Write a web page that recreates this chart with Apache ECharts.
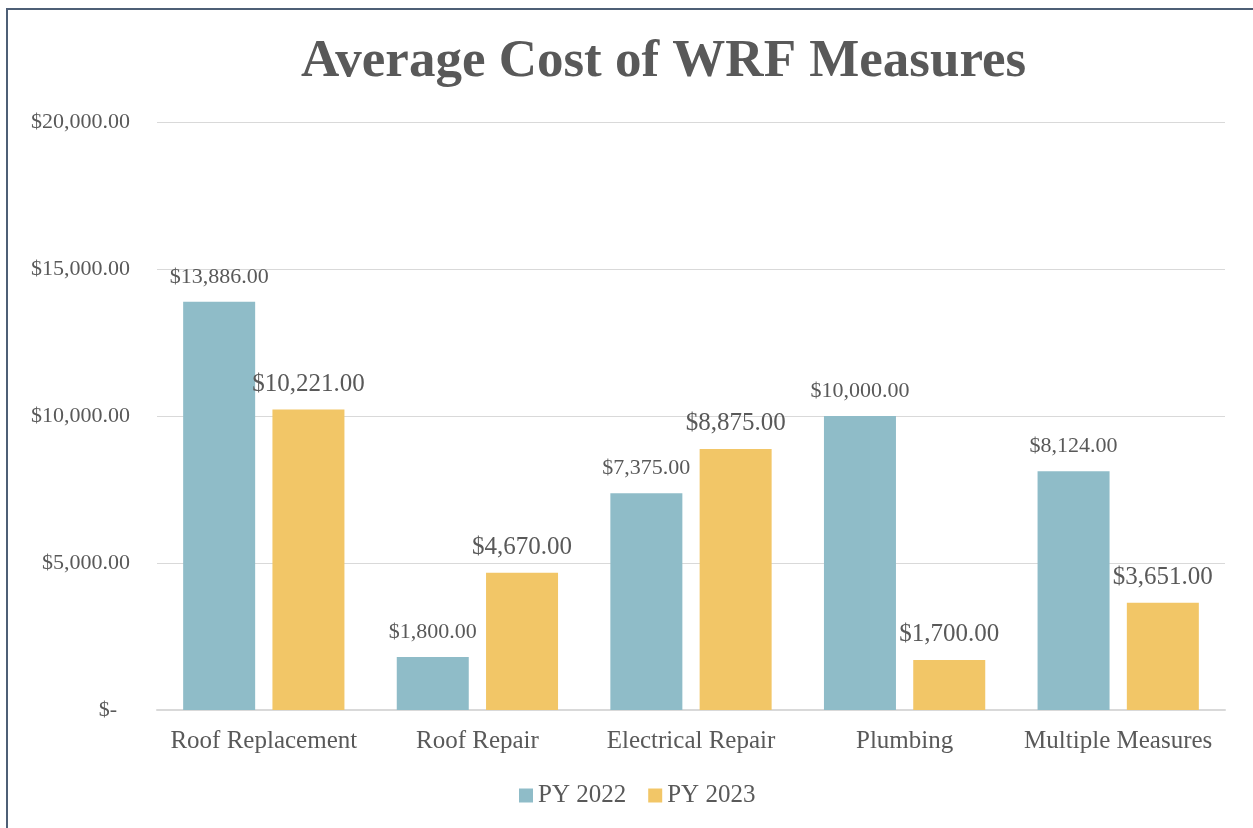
<!DOCTYPE html>
<html><head><meta charset="utf-8">
<script src="https://cdn.jsdelivr.net/npm/echarts@6/dist/echarts.min.js"></script>
<style>html,body{margin:0;padding:0;background:#fff;}#c{width:1253px;height:828px;}</style>
</head><body><div id="c"></div>
<script>
const categories = ['Roof Replacement', 'Roof Repair', 'Electrical Repair', 'Plumbing', 'Multiple Measures'];
const py2022 = [13886, 1800, 7375, 10000, 8124];
const py2023 = [10221, 4670, 8875, 1700, 3651];
const seriesNames = ['PY 2022', 'PY 2023'];

const FONT = '"Liberation Serif", "DejaVu Serif", serif';
const TXT = '#595959';
function money(v) {
  if (v === 0) return '$-';
  return '$' + v.toLocaleString('en-US', {minimumFractionDigits: 2, maximumFractionDigits: 2});
}
const chart = echarts.init(document.getElementById('c'));
chart.setOption({
  animation: false,
  backgroundColor: '#fff',
  graphic: [{
    type: 'rect', shape: {x: 7, y: 9, width: 1300, height: 900},
    style: {fill: 'none', stroke: '#4E5F76', lineWidth: 2}, z: 100
  }],
  title: {
    text: 'Average Cost of WRF Measures', left: 296, top: 31,
    textStyle: {fontFamily: FONT, fontWeight: 'bold', fontSize: 53, color: TXT}
  },
  legend: {
    data: seriesNames, bottom: 15, left: 514, itemWidth: 14, itemHeight: 14, itemGap: 22,
    icon: 'rect',
    textStyle: {fontFamily: FONT, fontSize: 25, color: TXT}
  },
  grid: {left: 157, right: 28, top: 122, bottom: 118, containLabel: false},
  xAxis: {
    type: 'category', data: categories,
    axisLine: {lineStyle: {color: '#D9D9D9', width: 2}},
    axisTick: {show: false},
    axisLabel: {fontFamily: FONT, fontSize: 25, color: TXT, margin: 19, interval: 0}
  },
  yAxis: {
    type: 'value', min: 0, max: 20000, interval: 5000,
    axisLine: {show: false}, axisTick: {show: false},
    splitLine: {lineStyle: {color: '#D9D9D9', width: 1}},
    axisLabel: {
      fontFamily: FONT, fontSize: 22, color: TXT, margin: 27,
      formatter: v => v === 0 ? '{z|$-}' : money(v),
      rich: {z: {fontFamily: FONT, fontSize: 22, color: TXT, padding: [0, 13, 0, 0]}}
    }
  },
  series: [
    {name: seriesNames[0], type: 'bar', data: py2022, barWidth: 72, barGap: '24%',
     itemStyle: {color: '#8FBCC8'},
     label: {show: true, position: 'top', distance: 14, formatter: p => money(p.value),
             fontFamily: FONT, fontSize: 22, color: TXT}},
    {name: seriesNames[1], type: 'bar', data: py2023, barWidth: 72,
     itemStyle: {color: '#F2C667'},
     label: {show: true, position: 'top', distance: 13, formatter: p => money(p.value),
             fontFamily: FONT, fontSize: 25, color: TXT}}
  ]
});
</script></body></html>
